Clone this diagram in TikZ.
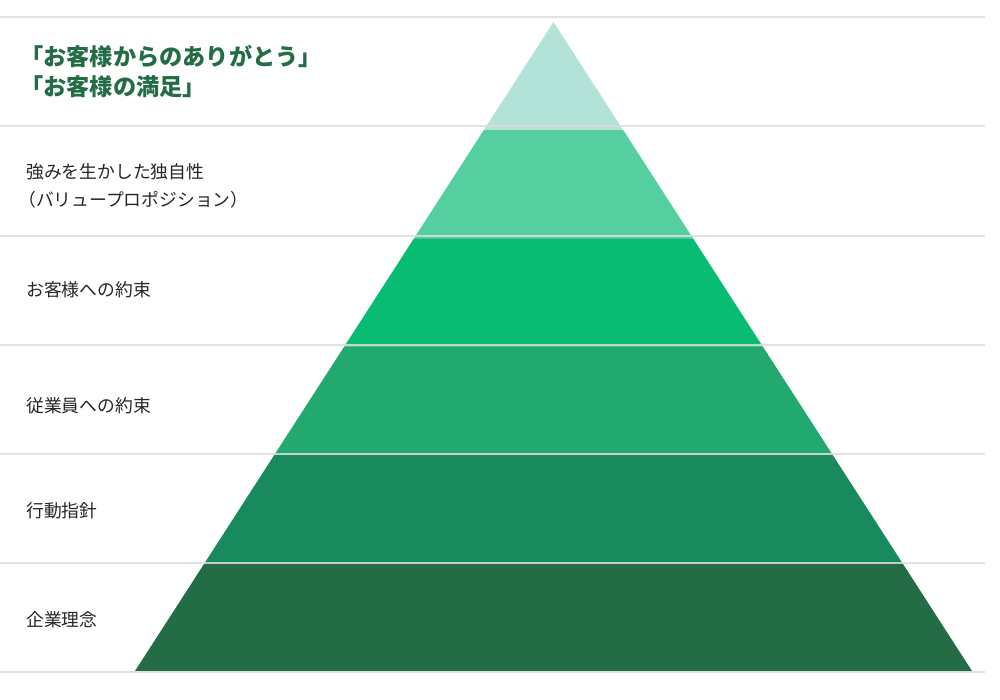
\documentclass[tikz,border=0pt]{standalone}
\usepackage{fontspec}
\setmainfont{Noto Sans CJK JP}
\usetikzlibrary{calc}
\definecolor{lvA}{HTML}{B3E2D8}
\definecolor{lvB}{HTML}{55CF9F}
\definecolor{lvC}{HTML}{08BC74}
\definecolor{lvD}{HTML}{22A96F}
\definecolor{lvE}{HTML}{188A5E}
\definecolor{lvF}{HTML}{236C46}
\definecolor{rulegray}{HTML}{DDDDDD}
\tikzset{
  rule/.style={rulegray, line width=1.6pt, opacity=0.85},
  label/.style={anchor=west, inner sep=0pt, font=\fontsize{17.8}{20}\selectfont, text=black!85},
  goal/.style={anchor=west, inner sep=0pt, font=\fontsize{23.2}{27}\selectfont\bfseries, text=lvF}
}
\begin{document}
\begin{tikzpicture}[x=1pt,y=-1pt]
    \useasboundingbox (0,0) rectangle (1000,700);

    \coordinate (apex) at (553.5,22);
    \coordinate (bl) at (135,671);
    \coordinate (br) at (972,671);

    \foreach \c [count=\i from 0] in {lvA,lvB,lvC,lvD,lvE,lvF} {
        \pgfmathsetmacro\ta{\i/6}
        \pgfmathsetmacro\tb{(\i+1)/6}
        \fill[\c] ($(apex)!\ta!(bl)$) -- ($(apex)!\tb!(bl)$) -- ($(apex)!\tb!(br)$) -- ($(apex)!\ta!(br)$) -- cycle;
    }

    \foreach \y in {17,126,236,345,454,563,672} {
        \draw[rule] (0,\y) -- (985,\y);
    }

    \node[goal] (goalA) at (20,56) {「お客様からのありがとう」};
    \node[goal] (goalB) at (20,87) {「お客様の満足」};
    \node[label] (lvBa) at (26,172) {強みを生かした独自性};
    \node[label] (lvBb) at (18,200) {（バリュープロポジション）};
    \node[label] (lvCt) at (26,290) {お客様への約束};
    \node[label] (lvDt) at (26,406) {従業員への約束};
    \node[label] (lvEt) at (26,511) {行動指針};
    \node[label] (lvFt) at (26,620) {企業理念};
\end{tikzpicture}
\end{document}
